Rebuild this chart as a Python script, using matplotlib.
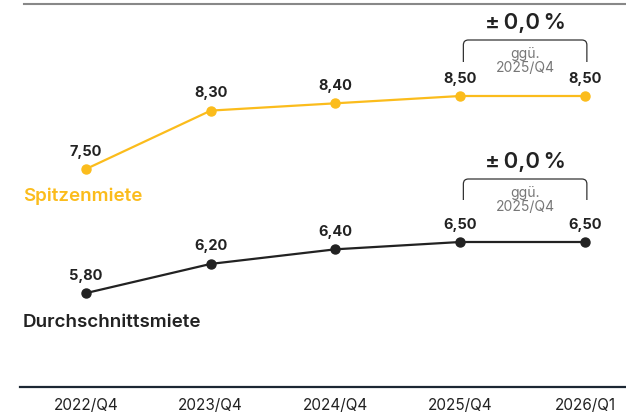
import matplotlib
matplotlib.use("Agg")
import matplotlib.pyplot as plt
from matplotlib.transforms import blended_transform_factory
from matplotlib.path import Path
from matplotlib.patches import PathPatch

plt.rcParams['font.family'] = ['Inter', 'DejaVu Sans']

# data
quarters = ['2022/Q4', '2023/Q4', '2024/Q4', '2025/Q4', '2026/Q1']
spitzenmiete = [7.50, 8.30, 8.40, 8.50, 8.50]
durchschnitt = [5.80, 6.20, 6.40, 6.50, 6.50]
change_label = '±\u20090,0\u2009%'
ref_label = 'ggü.\n2025/Q4'

YELLOW = '#FBBC1C'
DARK = '#222222'
GREY = '#777777'

W, H = 626, 413
PX_PER_UNIT = 73.0

fig = plt.figure(figsize=(W / 100, H / 100), dpi=100)
ax = fig.add_axes([0, 0, 1, 1])
ax.set_xlim(-0.6894, 4.3287)
ax.set_ylim(7.5 - (H - 169) / PX_PER_UNIT, 7.5 + 169 / PX_PER_UNIT)
ax.axis('off')

x = list(range(len(quarters)))


def fmt(v):
    return f'{v:.2f}'.replace('.', ',')


def draw_series(vals, color, name, name_dy):
    ax.plot(x, vals, color=color, lw=1.6, marker='o', ms=6.5, zorder=3)
    for xi, v in zip(x, vals):
        ax.annotate(fmt(v), (xi, v), xytext=(0, 7.5), textcoords='offset points',
                    ha='center', va='bottom', fontsize=10.5, fontweight='bold', color=DARK)
    ax.annotate(name, (x[0], vals[0]), xytext=(-45.5, name_dy), textcoords='offset points',
                ha='left', va='center', fontsize=13.5, fontweight='semibold', color=color)


def draw_bracket(v, top_px, leg_px, pct_px):
    # bracket between the last two points, offsets given in pixels above the value
    y_top = v + top_px / PX_PER_UNIT
    y_leg = v + leg_px / PX_PER_UNIT
    x0, x1 = x[3] + 0.025, x[4] + 0.015
    r = 0.04
    rv = 5 / PX_PER_UNIT
    verts = [(x0, y_leg), (x0, y_top - rv), (x0, y_top), (x0 + r, y_top),
             (x1 - r, y_top), (x1, y_top), (x1, y_top - rv), (x1, y_leg)]
    codes = [Path.MOVETO, Path.LINETO, Path.CURVE3, Path.CURVE3,
             Path.LINETO, Path.CURVE3, Path.CURVE3, Path.LINETO]
    ax.add_patch(PathPatch(Path(verts, codes), fill=False, ec='#333333', lw=0.9))
    xm = (x0 + x1) / 2
    ax.text(xm, v + pct_px / PX_PER_UNIT, change_label, ha='center', va='center',
            fontsize=16, fontweight='semibold', color=DARK)
    ax.text(xm, y_top - 7 / PX_PER_UNIT, ref_label, ha='center', va='top',
            fontsize=10, color=GREY, linespacing=1.0)


draw_series(spitzenmiete, YELLOW, 'Spitzenmiete', -19.5)
draw_series(durchschnitt, DARK, 'Durchschnittsmiete', -21.5)

draw_bracket(spitzenmiete[-1], 56, 34, 73)
draw_bracket(durchschnitt[-1], 63, 42, 80)

# frame lines
fig.add_artist(plt.Line2D([24 / W, 1], [1 - 4 / H] * 2, color='#888888', lw=1.5))
fig.add_artist(plt.Line2D([20 / W, 1], [1 - 387 / H] * 2, color='#1c2733', lw=1.6))

trans = blended_transform_factory(ax.transData, ax.transAxes)
for xi, q in zip(x, quarters):
    ax.text(xi, (H - 406) / H, q, transform=trans, ha='center', va='center',
            fontsize=11, color=DARK)

fig.savefig('out.png', dpi=100)
